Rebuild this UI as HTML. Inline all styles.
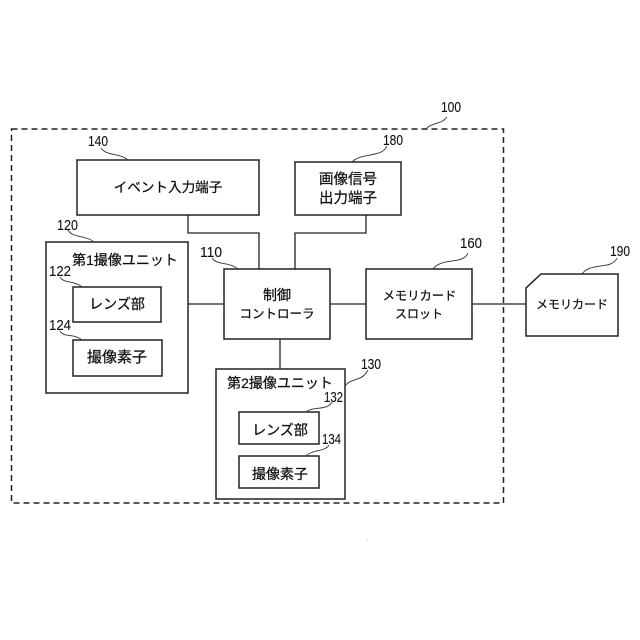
<!DOCTYPE html>
<html><head><meta charset="utf-8"><style>
html,body{margin:0;padding:0;background:#fff;width:640px;height:640px;overflow:hidden}
svg{display:block}
text{font-family:"Liberation Sans","Noto Sans CJK JP",sans-serif;fill:#111}
.l{font-size:14px;text-anchor:middle;stroke:#111;stroke-width:.25}
.n{font-size:15px;text-anchor:start;stroke:#111;stroke-width:.1}
.b{fill:#fff;stroke:#222;stroke-width:1.5}
.w{fill:none;stroke:#222;stroke-width:1.3}
.c{fill:none;stroke:#333;stroke-width:.9}
</style></head><body>
<svg width="640" height="640" viewBox="0 0 640 640" xmlns="http://www.w3.org/2000/svg">
<rect x="11.500" y="129" width="492" height="374" fill="none" stroke="#222" stroke-width="1.500" stroke-dasharray="6 4"/>
<path class="w" d="M188 215V233H259V269M295 269V233H366V215M188 304H224M330 304H366M472 304H526M280 339V369"/>
<rect class="b" x="77" y="160" width="182" height="55"/>
<rect class="b" x="295" y="162" width="106" height="53"/>
<rect class="b" x="46" y="242" width="142" height="151"/>
<rect class="b" x="224" y="269" width="106" height="70"/>
<rect class="b" x="366" y="269" width="106" height="70"/>
<path class="b" d="M541 274H618V336H526V288Z"/>
<rect class="b" x="216" y="369" width="129" height="130"/>
<rect class="b" x="73" y="287" width="88" height="35"/>
<rect class="b" x="73" y="340" width="89" height="36"/>
<rect class="b" x="239" y="412" width="80" height="32"/>
<rect class="b" x="239" y="456" width="80" height="32"/>
<text class="l" x="168" y="192" style="font-size:13.6px">イベント入力端子</text>
<text class="l" x="348" y="184" style="font-size:14.5px">画像信号</text>
<text class="l" x="348" y="203" style="font-size:14.5px">出力端子</text>
<text class="l" x="125" y="265">第1撮像ユニット</text>
<text class="l" x="117" y="309">レンズ部</text>
<text class="l" x="117" y="362" style="font-size:15px">撮像素子</text>
<text class="l" x="277" y="300">制御</text>
<text class="l" x="277" y="318" style="font-size:12.500px">コントローラ</text>
<text class="l" x="419.500" y="300" style="font-size:12.300px">メモリカード</text>
<text class="l" x="419" y="318" style="font-size:12px">スロット</text>
<text class="l" x="572" y="308.500" style="font-size:12px">メモリカード</text>
<text class="l" x="280" y="388">第2撮像ユニット</text>
<text class="l" x="280" y="435">レンズ部</text>
<text class="l" x="280" y="479">撮像素子</text>
<text class="n" x="441" y="112" textLength="20" lengthAdjust="spacingAndGlyphs">100</text>
<text class="n" x="88" y="146" textLength="20" lengthAdjust="spacingAndGlyphs">140</text>
<text class="n" x="383" y="145" textLength="20" lengthAdjust="spacingAndGlyphs">180</text>
<text class="n" x="57" y="230" textLength="21" lengthAdjust="spacingAndGlyphs">120</text>
<text class="n" x="49" y="276" textLength="22" lengthAdjust="spacingAndGlyphs">122</text>
<text class="n" x="49" y="330" textLength="22" lengthAdjust="spacingAndGlyphs">124</text>
<text class="n" x="200" y="257" textLength="22" lengthAdjust="spacingAndGlyphs">110</text>
<text class="n" x="460" y="248" textLength="22" lengthAdjust="spacingAndGlyphs">160</text>
<text class="n" x="610" y="256" textLength="20" lengthAdjust="spacingAndGlyphs">190</text>
<text class="n" x="361" y="369" textLength="20" lengthAdjust="spacingAndGlyphs">130</text>
<text class="n" x="324" y="402" textLength="19" lengthAdjust="spacingAndGlyphs">132</text>
<text class="n" x="322" y="444" textLength="19" lengthAdjust="spacingAndGlyphs">134</text>
<path class="c" d="M426 129C432 122 441 125 447 117"/>
<path class="c" d="M101 148C106 156 120 153 128 160"/>
<path class="c" d="M387 146C382 158 362 152 352 162"/>
<path class="c" d="M68 230C72 238 86 235 94 242"/>
<path class="c" d="M60 277C64 284 74 280 82 287"/>
<path class="c" d="M60 331C64 338 74 333 82 340"/>
<path class="c" d="M212 258C216 265 230 262 238 269"/>
<path class="c" d="M468 253C463 265 442 257 433 269"/>
<path class="c" d="M617 258C612 270 590 262 582 274"/>
<path class="c" d="M368 370C362 382 352 377 345 386"/>
<path class="c" d="M332 402C327 411 313 406 306 412"/>
<path class="c" d="M329 445C325 452 313 449 306 456"/>
<circle cx="367" cy="540" r=".5" fill="#888"/>
</svg>
</body></html>
